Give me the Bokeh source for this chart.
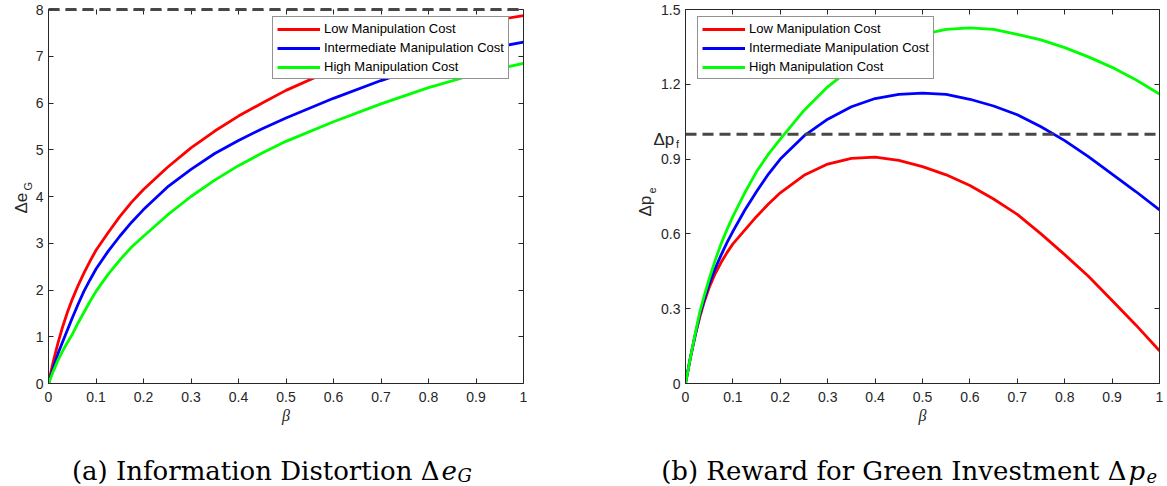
import math
from bokeh.plotting import figure
from bokeh.models import Range1d, LinearAxis, Span, Label, Legend, LegendItem, FixedTicker
from bokeh.layouts import row, column
from bokeh.embed import file_html
from bokeh.resources import INLINE

# ---------------- data ----------------
beta_a = [0, 0.005, 0.01, 0.02, 0.03, 0.04, 0.05, 0.0625, 0.075, 0.0875, 0.1, 0.125,
          0.15, 0.175, 0.2, 0.25, 0.3, 0.35, 0.4, 0.45, 0.5, 0.6, 0.7, 0.8, 0.9, 1.0]
low_a = [0, 0.24, 0.47, 0.87, 1.22, 1.53, 1.8, 2.1, 2.37, 2.62, 2.85, 3.22,
         3.57, 3.88, 4.15, 4.62, 5.04, 5.4, 5.72, 6.0, 6.27, 6.72, 7.1, 7.44, 7.7, 7.87]
mid_a = [0, 0.17, 0.34, 0.64, 0.9, 1.15, 1.4, 1.7, 1.98, 2.22, 2.45, 2.82,
         3.15, 3.45, 3.72, 4.2, 4.58, 4.92, 5.2, 5.45, 5.68, 6.1, 6.48, 6.82, 7.12, 7.3]
high_a = [0, 0.13, 0.26, 0.5, 0.7, 0.88, 1.05, 1.3, 1.53, 1.76, 1.97, 2.33,
          2.64, 2.92, 3.15, 3.6, 4.0, 4.35, 4.66, 4.93, 5.18, 5.6, 5.98, 6.33, 6.62, 6.85]

beta_b = [0, 0.01, 0.02, 0.03, 0.04, 0.05, 0.0625, 0.075, 0.0875, 0.1, 0.125, 0.15,
          0.175, 0.2, 0.25, 0.3, 0.35, 0.4, 0.45, 0.5, 0.55, 0.6, 0.65, 0.7, 0.75,
          0.8, 0.85, 0.9, 0.95, 1.0]
low_b = [0, 0.1, 0.19, 0.265, 0.33, 0.385, 0.44, 0.485, 0.525, 0.56, 0.615, 0.67,
         0.72, 0.765, 0.835, 0.88, 0.903, 0.908, 0.895, 0.87, 0.837, 0.794, 0.74,
         0.678, 0.6, 0.517, 0.43, 0.333, 0.235, 0.131]
mid_b = [0, 0.1, 0.19, 0.275, 0.34, 0.4, 0.46, 0.515, 0.565, 0.61, 0.695, 0.77,
         0.84, 0.9, 0.993, 1.06, 1.11, 1.143, 1.16, 1.165, 1.16, 1.14, 1.113,
         1.078, 1.03, 0.974, 0.91, 0.84, 0.77, 0.696]
high_b = [0, 0.1, 0.195, 0.285, 0.355, 0.42, 0.493, 0.56, 0.617, 0.67, 0.765, 0.85,
          0.92, 0.98, 1.095, 1.19, 1.265, 1.32, 1.365, 1.40, 1.42, 1.426, 1.42,
          1.40, 1.378, 1.347, 1.31, 1.268, 1.218, 1.161]

series_labels = ["Low Manipulation Cost", "Intermediate Manipulation Cost",
                 "High Manipulation Cost"]
series_colors = ["#ff0000", "#0000ff", "#00ff00"]

x_ticks = [0, 0.1, 0.2, 0.3, 0.4, 0.5, 0.6, 0.7, 0.8, 0.9, 1]
x_tick_labels = ["0", "0.1", "0.2", "0.3", "0.4", "0.5", "0.6", "0.7", "0.8", "0.9", "1"]
ya_ticks = [0, 1, 2, 3, 4, 5, 6, 7, 8]
ya_tick_labels = ["0", "1", "2", "3", "4", "5", "6", "7", "8"]
yb_ticks = [0, 0.3, 0.6, 0.9, 1.2, 1.5]
yb_tick_labels = ["0", "0.3", "0.6", "0.9", "1.2", "1.5"]

e_bound = 8      # dashed reference in panel (a)
pf_level = 1.0   # Δp_f in panel (b), labelled on the y axis

# ---------------- styling ----------------
AX = "#262626"
DASH = "#474747"
TICK_FONT = "Liberation Sans"
SERIF = "Liberation Serif"
CAP_FONT = "DejaVu Serif"
PH = 436          # plot row height
CH = 486 - PH     # caption row height
FT, FH = 9, 374


def style_axis(ax, ticks, labels, show_labels=True):
    ax.ticker = FixedTicker(ticks=ticks)
    ax.major_label_overrides = {t: l for t, l in zip(ticks, labels)}
    ax.axis_line_color = AX
    ax.axis_line_width = 1
    ax.major_tick_line_color = AX
    ax.major_tick_in = 5
    ax.major_tick_out = 0
    ax.minor_tick_line_color = None
    ax.major_label_text_font = TICK_FONT
    if show_labels:
        ax.major_label_text_color = AX
        ax.major_label_text_font_size = "14px"
        ax.major_label_standoff = 5
    else:
        ax.major_label_text_color = None
        ax.major_label_text_font_size = "1px"
        ax.major_label_standoff = 0


def make_fig(width, bl, br, ymax, yticks, ylabels):
    p = figure(width=width, height=PH, x_range=Range1d(0, 1), y_range=Range1d(0, ymax),
               output_backend="svg", toolbar_location=None,
               min_border_left=bl, min_border_right=br,
               min_border_top=FT, min_border_bottom=PH - FT - FH)
    p.grid.visible = False
    p.outline_line_color = None
    p.background_fill_color = "white"
    p.border_fill_color = "white"
    style_axis(p.xaxis[0], x_ticks, x_tick_labels)
    style_axis(p.yaxis[0], yticks, ylabels)
    p.xaxis[0].major_label_standoff = 8
    p.xaxis[0].axis_label = "β"
    p.xaxis[0].axis_label_text_font = SERIF
    p.xaxis[0].axis_label_text_font_style = "italic"
    p.xaxis[0].axis_label_text_font_size = "16px"
    p.xaxis[0].axis_label_text_color = AX
    p.xaxis[0].axis_label_standoff = 2
    top = LinearAxis()
    style_axis(top, x_ticks, x_tick_labels, show_labels=False)
    p.add_layout(top, "above")
    right = LinearAxis()
    style_axis(right, yticks, ylabels, show_labels=False)
    p.add_layout(right, "right")
    return p, top


def side_label(p, geom, side, px, py, text, size, **kw):
    """Text outside the frame, placed in a side panel so it is not clipped."""
    fl, fw, ymax = geom
    x = (px - fl) / fw
    y = (FT + FH - py) / FH * ymax
    p.add_layout(Label(x=x, y=y, text=text, text_font_size=size, **kw), side)


def add_series(p, beta, ys, loc):
    items = []
    for y, c, name in zip(ys, series_colors, series_labels):
        r = p.line(beta, y, line_color=c, line_width=2.8)
        items.append(LegendItem(label=name, renderers=[r]))
    leg = Legend(items=items, location=loc, border_line_color=AX, border_line_width=1,
                 background_fill_color="white", background_fill_alpha=1.0,
                 label_text_font=TICK_FONT, label_text_font_size="13px",
                 label_text_color="black", glyph_width=43, glyph_height=14,
                 label_height=14, label_standoff=4, padding=4, spacing=4, margin=0)
    p.add_layout(leg)


# ---------------- panel (a) ----------------
WA = 583
pa, top_a = make_fig(WA, 48, WA - 48 - 475, e_bound, ya_ticks, ya_tick_labels)
pa.add_layout(Span(location=e_bound, dimension="width", line_color=DASH,
                   line_width=3, line_dash="11 6"))
# the bound coincides with the top edge of the box: draw the box edge dashed too
top_a.axis_line_color = DASH
top_a.axis_line_width = 3
top_a.axis_line_dash = "11 6"
add_series(pa, beta_a, [low_a, mid_a, high_a], (224, FH - 12 - 58))
ga = (48, 475, e_bound)
side_label(pa, ga, "left", 20.5, 213, "Δe", "17px", angle=math.pi / 2,
           text_font=TICK_FONT, text_color=AX, text_baseline="alphabetic",
           text_align="left")
side_label(pa, ga, "right", 27, 190, "G", "11px", angle=math.pi / 2,
           text_font=TICK_FONT, text_color=AX, text_baseline="alphabetic",
           text_align="left")

# ---------------- panel (b) ----------------
WB = 1167 - WA
OFF = WA
pb, top_b = make_fig(WB, 685 - OFF, WB - (685 - OFF) - 474, 1.5, yb_ticks,
                     yb_tick_labels)
pb.add_layout(Span(location=pf_level, dimension="width", line_color=DASH,
                   line_width=3, line_dash="11 6"))
add_series(pb, beta_b, [low_b, mid_b, high_b], (12, FH - 12 - 58))
gb = (685 - OFF, 474, 1.5)
pf_py = FT + FH - pf_level / 1.5 * FH
side_label(pb, gb, "left", 653 - OFF, pf_py + 5, "Δp", "17px", text_font=TICK_FONT,
           text_color=AX, text_baseline="alphabetic", text_align="left")
side_label(pb, gb, "left", 675.5 - OFF, pf_py + 10, "f", "11px", text_font=TICK_FONT,
           text_color=AX, text_baseline="alphabetic", text_align="left")
side_label(pb, gb, "left", 645 - OFF, 216, "Δp", "17px", angle=math.pi / 2,
           text_font=TICK_FONT, text_color=AX, text_baseline="alphabetic",
           text_align="left")
side_label(pb, gb, "left", 651 - OFF, 193, "e", "11px", angle=math.pi / 2,
           text_font=TICK_FONT, text_color=AX, text_baseline="alphabetic",
           text_align="left")

# ---------------- captions ----------------
cap = figure(width=1167, height=CH, x_range=Range1d(0, 1167), y_range=Range1d(CH, 0),
             output_backend="svg", toolbar_location=None, min_border=0,
             x_axis_type=None, y_axis_type=None)
cap.grid.visible = False
cap.outline_line_color = None
BL = 470 - PH  # caption baseline within the caption row


def cap_text(px, py, text, size, style="normal", align="left"):
    cap.add_layout(Label(x=px, y=py, text=text, text_font=CAP_FONT, text_font_size=size,
                         text_font_style=style, text_color="black",
                         text_baseline="alphabetic", text_align=align))


cap_text(439, BL, "(a) Information Distortion Δ", "26px", align="right")
cap_text(441, BL, "e", "26px", style="italic")
cap_text(457, BL + 5, "G", "18px", style="italic")
cap_text(1126, BL, "(b) Reward for Green Investment Δ", "26px", align="right")
cap_text(1128, BL, "p", "26px", style="italic")
cap_text(1146, BL + 5, "e", "18px", style="italic")

layout = column(row(pa, pb, spacing=0), cap, spacing=0)
open("out.html", "w").write(file_html(layout, INLINE))
